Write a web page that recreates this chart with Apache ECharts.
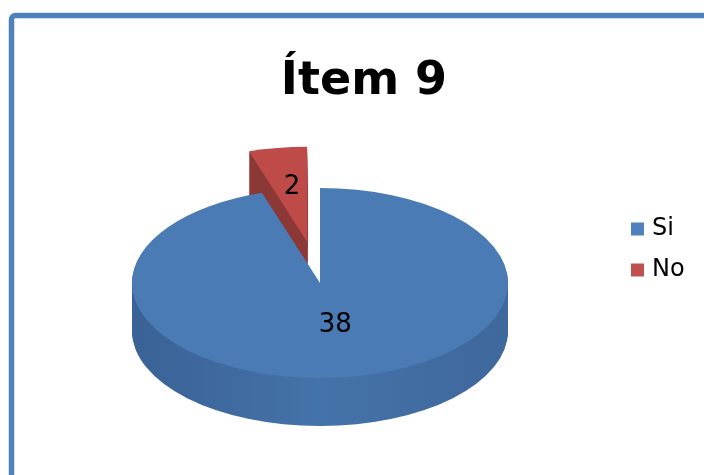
<!DOCTYPE html>
<html>
<head>
<meta charset="utf-8">
<title>Ítem 9</title>
<script src="https://cdn.jsdelivr.net/npm/echarts@6/dist/echarts.min.js"></script>
<style>
    html, body { margin: 0; padding: 0; background: #fff; }
    #main { width: 704px; height: 475px; }
</style>
</head>
<body>
<div id="main"></div>
<script>
let titleText = 'Ítem 9';
let categories = ['Si', 'No'];
let values = [38, 2];

// colores tipo Excel 2007
let legendColors = ['#4f81bd', '#c0504d'];
let topColors = ['#4a7bb5', '#be4b48'];
let sideColors = [
    [{offset: 0, color: '#3a6296'}, {offset: 0.5, color: '#4472aa'}, {offset: 1, color: '#3f689c'}],
    [{offset: 0, color: '#8c3836'}, {offset: 1, color: '#8c3836'}]
];
let explode = [0, 0.44];     // separación de la porción, fracción del radio
let labelRadius = [0.45, 0.58];

// geometría del pastel 3D (px)
let cx = 320, cy = 283, rx = 188, ry = 95, depth = 48;

let total = values.reduce((a, b) => a + b, 0);

function renderSlice(idx) {
    return function (params, api) {
        let before = values.slice(0, idx).reduce((a, b) => a + b, 0);
        let v = api.value(0);
        let a0 = -Math.PI / 2 + before / total * 2 * Math.PI;
        let a1 = a0 + v / total * 2 * Math.PI;
        let mid = (a0 + a1) / 2;
        let k = ry / rx;
        let ox = Math.cos(mid) * explode[idx] * rx;
        let oy = Math.sin(mid) * explode[idx] * rx;

        let layers = [];
        // lateral: capas apiladas de abajo hacia arriba
        for (let j = depth; j >= 1; j--) {
            layers.push({
                type: 'sector',
                shape: {cx: cx + ox, cy: cy + oy + j / k, r: rx, r0: 0, startAngle: a0, endAngle: a1, clockwise: true},
                style: {fill: {type: 'linear', x: 0, y: 0, x2: 1, y2: 0, colorStops: sideColors[idx]}}
            });
        }
        // cara superior
        layers.push({
            type: 'sector',
            shape: {cx: cx + ox, cy: cy + oy, r: rx, r0: 0, startAngle: a0, endAngle: a1, clockwise: true},
            style: {fill: topColors[idx]}
        });

        let lr = labelRadius[idx] * rx;
        return {
            type: 'group',
            children: [
                {type: 'group', originX: cx, originY: cy, scaleY: k, children: layers},
                {
                    type: 'text',
                    x: cx + ox + Math.cos(mid) * lr + 2,
                    y: cy + k * (oy + Math.sin(mid) * lr),
                    style: {
                        text: String(v), fontSize: 26, fontFamily: 'DejaVu Sans',
                        fill: '#000', align: 'center', verticalAlign: 'middle'
                    }
                }
            ]
        };
    };
}

let myChart = echarts.init(document.getElementById('main'));

let series = categories.map(function (name, i) {
    return {
        name: name,
        type: 'custom',
        coordinateSystem: 'none',
        z: i === 0 ? 3 : 2,
        itemStyle: {color: legendColors[i]},
        data: [values[i]],
        renderItem: renderSlice(i)
    };
});

let option = {
    animation: false,
    backgroundColor: '#fff',
    title: {
        text: titleText,
        left: 359,
        top: 54,
        textAlign: 'center',
        textStyle: {fontSize: 46, fontWeight: 'bold', fontFamily: 'DejaVu Sans', color: '#000'}
    },
    legend: {
        data: categories,
        orient: 'vertical',
        left: 626,
        top: 212,
        icon: 'rect',
        itemWidth: 13,
        itemHeight: 13,
        itemGap: 17,
        selectedMode: false,
        textStyle: {fontSize: 24, fontFamily: 'DejaVu Sans', color: '#000', padding: [0, 0, 0, 3]}
    },
    graphic: [{
        type: 'rect',
        silent: true,
        z: -1,
        shape: {x: 11.5, y: 15.5, width: 720, height: 480, r: 4},
        style: {fill: null, stroke: '#4f81bd', lineWidth: 5.5}
    }],
    series: series
};

myChart.setOption(option);
</script>
</body>
</html>
